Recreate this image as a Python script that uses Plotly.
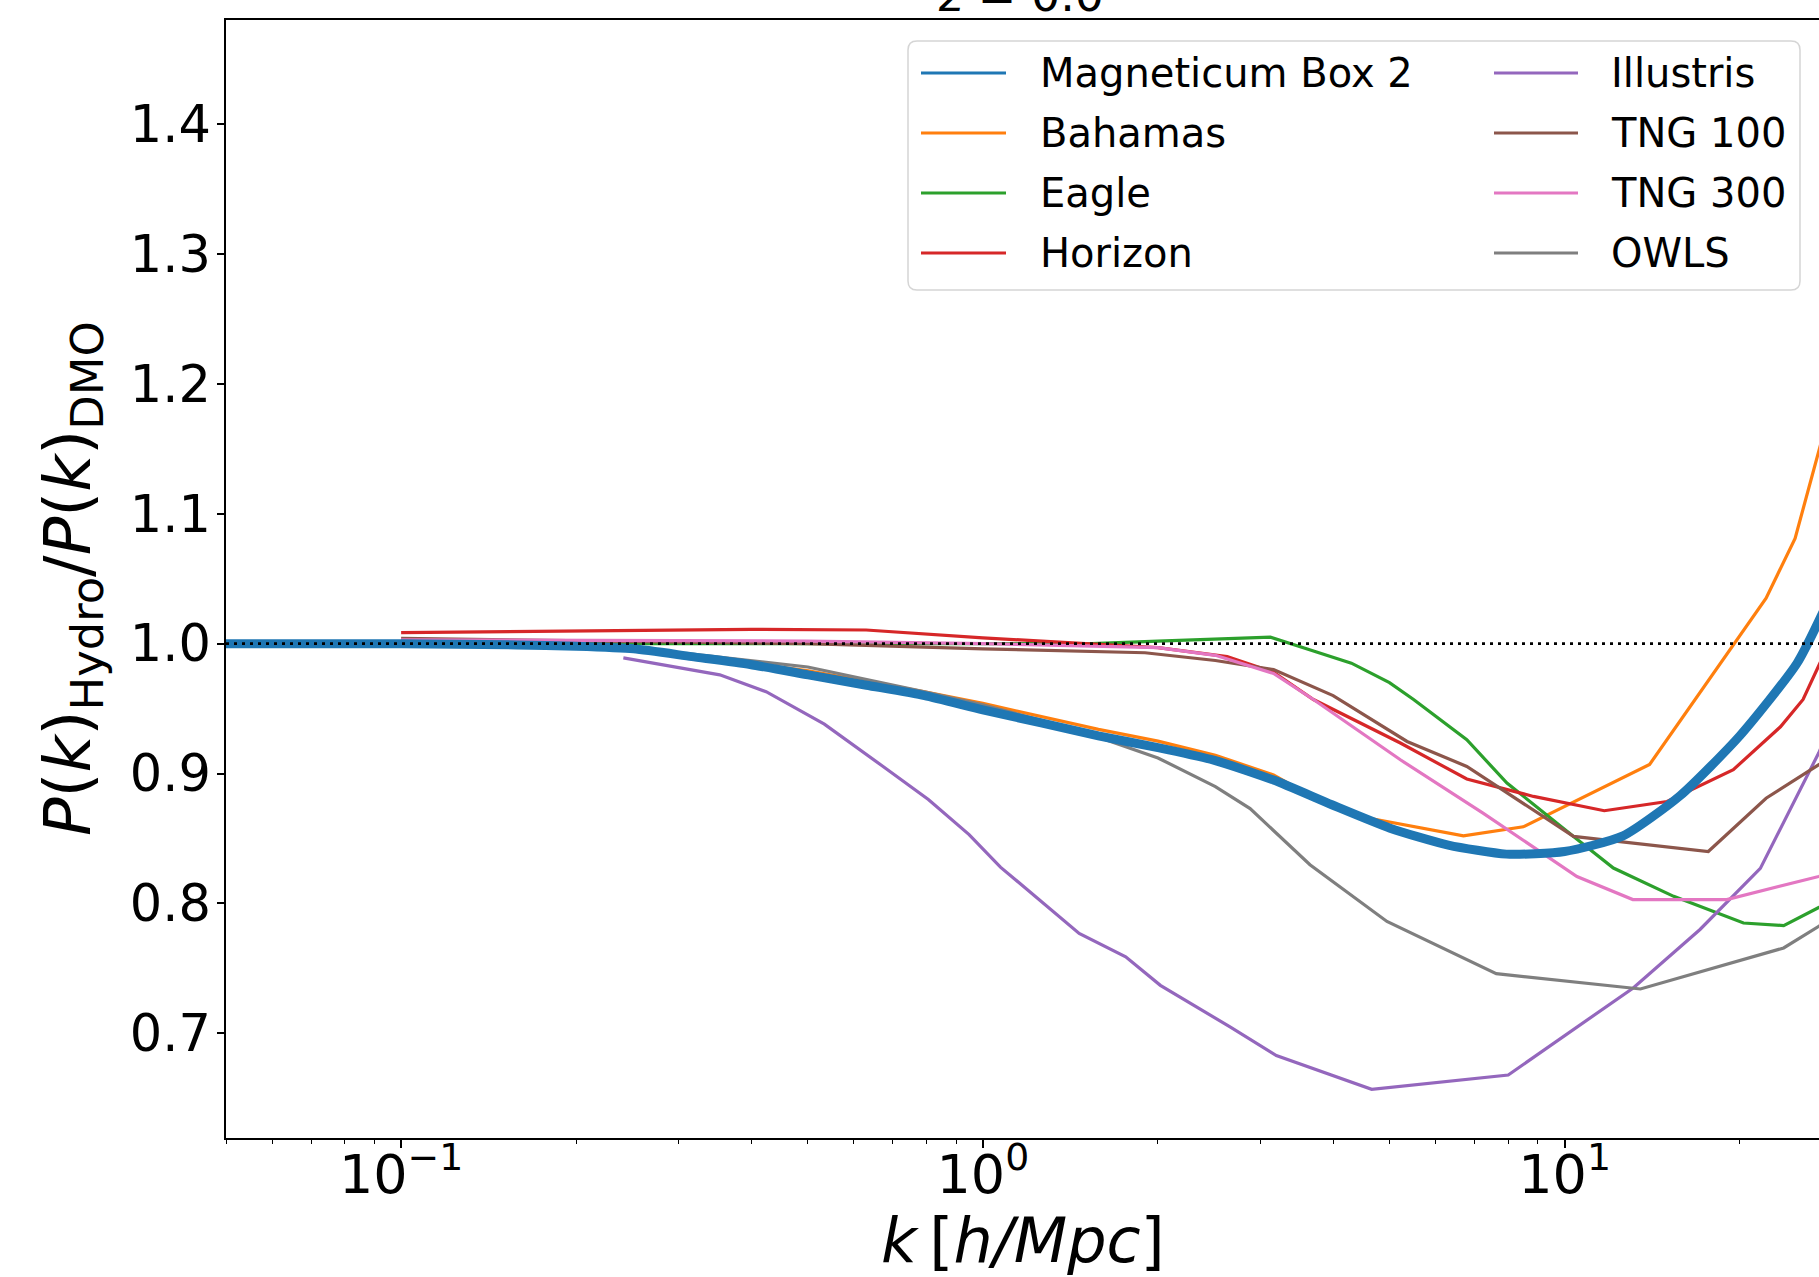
import math
import plotly.graph_objects as go

# ---------------- data ----------------
k_magneticum = [0.05, 0.1, 0.158, 0.2, 0.251, 0.316, 0.398, 0.501, 0.631, 0.794, 1.0, 1.26, 1.58, 2.0,
                2.51, 3.16, 3.98, 5.01, 6.31, 7.94, 10.0, 12.6, 15.8, 20.0, 25.1, 28.2]
r_magneticum = [1.0, 1.0, 0.999, 0.998, 0.996, 0.990, 0.984, 0.976, 0.968, 0.960, 0.949, 0.939, 0.929, 0.920,
                0.910, 0.895, 0.876, 0.858, 0.845, 0.838, 0.840, 0.852, 0.883, 0.929, 0.985, 1.03]

k_bahamas = [0.1, 0.2, 0.316, 0.501, 0.631, 0.794, 1.0, 1.26, 1.58, 2.0, 2.51, 3.16, 3.51, 4.57, 6.70, 8.49,
             14.0, 22.2, 24.9, 28.2]
r_bahamas = [1.0, 0.998, 0.991, 0.979, 0.971, 0.963, 0.954, 0.944, 0.934, 0.925, 0.914, 0.899, 0.8875, 0.866,
             0.852, 0.859, 0.907, 1.035, 1.081, 1.17]

k_eagle = [0.1, 1.0, 1.54, 2.0, 3.12, 3.6, 4.3, 5.0, 5.5, 6.79, 7.96, 10.36, 12.13, 15.4, 20.3, 23.8, 28.2]
r_eagle = [1.0, 1.0, 1.0, 1.002, 1.005, 0.996, 0.985, 0.970, 0.957, 0.926, 0.8927, 0.8516, 0.8273, 0.8055,
           0.785, 0.783, 0.80]

k_horizon = [0.1, 0.2, 0.4, 0.63, 1.0, 1.5, 2.0, 2.63, 3.16, 3.70, 5.22, 6.79, 8.84, 11.7, 15.0, 19.5, 23.5,
             25.7, 28.2]
r_horizon = [1.0085, 1.010, 1.011, 1.0105, 1.0045, 1.0, 0.997, 0.990, 0.978, 0.957, 0.9235, 0.8958, 0.8824,
             0.8714, 0.8785, 0.903, 0.936, 0.957, 0.996]

k_illustris = [0.241, 0.353, 0.424, 0.534, 0.671, 0.806, 0.947, 1.072, 1.464, 1.760, 2.019, 2.66, 3.195,
               4.66, 8.00, 10.36, 13.12, 17.09, 21.7, 27.35, 28.2]
r_illustris = [0.989, 0.976, 0.963, 0.938, 0.906, 0.880, 0.853, 0.828, 0.777, 0.759, 0.737, 0.705, 0.683,
               0.657, 0.668, 0.703, 0.735, 0.780, 0.827, 0.916, 0.93]

k_tng100 = [0.1, 0.5, 1.0, 1.9, 2.51, 3.16, 4.0, 5.36, 6.79, 10.36, 17.66, 22.2, 27.35, 28.2]
r_tng100 = [1.004, 1.0, 0.996, 0.993, 0.987, 0.980, 0.960, 0.9247, 0.9055, 0.8516, 0.840, 0.881, 0.9068, 0.91]

k_tng300 = [0.1, 0.5, 1.0, 2.0, 2.51, 3.16, 3.70, 5.22, 7.24, 10.5, 13.1, 19.0, 27.35, 28.2]
r_tng300 = [1.003, 1.002, 1.0, 0.997, 0.991, 0.977, 0.957, 0.9106, 0.8696, 0.8208, 0.803, 0.803, 0.8208, 0.823]

k_owls = [0.1, 0.2, 0.316, 0.5, 0.794, 1.0, 1.26, 1.58, 2.0, 2.51, 2.88, 3.65, 4.95, 7.63, 13.5, 23.8, 27.35, 28.2]
r_owls = [1.002, 0.998, 0.992, 0.982, 0.963, 0.953, 0.941, 0.928, 0.912, 0.890, 0.873, 0.8298, 0.7862, 0.746,
          0.7342, 0.7658, 0.7824, 0.786]

reference_level = 1.0

legend_col1 = ["Magneticum Box 2", "Bahamas", "Eagle", "Horizon"]
legend_col2 = ["Illustris", "TNG 100", "TNG 300", "OWLS"]

x_tickvals = [0.1, 1, 10]
x_ticktext = ["10<sup>\u22121</sup>", "10<sup>0</sup>", "10<sup>1</sup>"]
y_tickvals = [0.7, 0.8, 0.9, 1.0, 1.1, 1.2, 1.3, 1.4]
y_ticktext = ["0.7", "0.8", "0.9", "1.0", "1.1", "1.2", "1.3", "1.4"]

COLORS = {
    "Magneticum Box 2": "#1f77b4", "Bahamas": "#ff7f0e", "Eagle": "#2ca02c", "Horizon": "#d62728",
    "Illustris": "#9467bd", "TNG 100": "#8c564b", "TNG 300": "#e377c2", "OWLS": "#7f7f7f",
}

series = [
    ("Bahamas", k_bahamas, r_bahamas),
    ("Eagle", k_eagle, r_eagle),
    ("Horizon", k_horizon, r_horizon),
    ("Illustris", k_illustris, r_illustris),
    ("TNG 100", k_tng100, r_tng100),
    ("TNG 300", k_tng300, r_tng300),
    ("OWLS", k_owls, r_owls),
]

# ---------------- layout geometry ----------------
W, H = 1819, 1277
L, R, T, B = 226, 0, 20, 139
PW = W - L - R
PH = H - T - B
FONT = "DejaVu Sans"


def px_x(p):
    return (p - L) / PW


def px_y(p):
    return (H - B - p) / PH


fig = go.Figure()

for name, kx, ry in series:
    fig.add_trace(go.Scatter(x=kx, y=ry, mode="lines", name=name, showlegend=False,
                             line=dict(color=COLORS[name], width=3.2)))

fig.add_trace(go.Scatter(x=k_magneticum, y=r_magneticum, mode="lines", name="Magneticum Box 2",
                         showlegend=False, line=dict(color=COLORS["Magneticum Box 2"], width=9,
                                                     shape="spline", smoothing=0.6)))

shapes = []
# dotted reference line
shapes.append(dict(type="line", xref="paper", x0=0, x1=1, yref="y", y0=reference_level, y1=reference_level,
                   line=dict(color="black", width=2.6, dash="3px,5px"), layer="above"))

# legend box (rounded rectangle)
bx0, bx1, by0, by1, rr = 908, 1800, 41, 290, 9
path = (f"M {px_x(bx0 + rr)},{px_y(by0)} L {px_x(bx1 - rr)},{px_y(by0)} "
        f"Q {px_x(bx1)},{px_y(by0)} {px_x(bx1)},{px_y(by0 + rr)} "
        f"L {px_x(bx1)},{px_y(by1 - rr)} Q {px_x(bx1)},{px_y(by1)} {px_x(bx1 - rr)},{px_y(by1)} "
        f"L {px_x(bx0 + rr)},{px_y(by1)} Q {px_x(bx0)},{px_y(by1)} {px_x(bx0)},{px_y(by1 - rr)} "
        f"L {px_x(bx0)},{px_y(by0 + rr)} Q {px_x(bx0)},{px_y(by0)} {px_x(bx0 + rr)},{px_y(by0)} Z")
shapes.append(dict(type="path", xref="paper", yref="paper", path=path,
                   line=dict(color="#d5d5d5", width=1.5), fillcolor="rgba(255,255,255,0.8)", layer="above"))

annotations = []
row_y = [73, 133, 193, 253]
cols = [(legend_col1, 921, 1006, 1038), (legend_col2, 1494, 1578, 1609)]
for names, lx0, lx1, tx in cols:
    for name, yy in zip(names, row_y):
        shapes.append(dict(type="line", xref="paper", yref="paper", x0=px_x(lx0), x1=px_x(lx1),
                           y0=px_y(yy), y1=px_y(yy), line=dict(color=COLORS[name], width=3.2), layer="above"))
        annotations.append(dict(text=name, xref="paper", yref="paper", x=px_x(tx), y=px_y(yy),
                                xanchor="left", yanchor="middle", showarrow=False,
                                font=dict(family=FONT, size=40, color="black")))

# axis titles and panel title
annotations.append(dict(text="<i>k</i>\u2009[<i>h/Mpc</i>]", xref="paper", yref="paper", x=0.5, y=px_y(1240),
                        xanchor="center", yanchor="middle", showarrow=False,
                        font=dict(family=FONT, size=62, color="black")))
annotations.append(dict(text="<i>P</i>(<i>k</i>)<sub>Hydro</sub>/<i>P</i>(<i>k</i>)<sub>DMO</sub>",
                        xref="paper", yref="paper", x=px_x(72), y=0.5, textangle=-90,
                        xanchor="center", yanchor="middle", showarrow=False,
                        font=dict(family=FONT, size=64, color="black")))
annotations.append(dict(text="<i>z</i> = 0.0", xref="paper", yref="paper", x=px_x(1021), y=px_y(-5),
                        xanchor="center", yanchor="middle", showarrow=False,
                        font=dict(family=FONT, size=46, color="black")))

minor_x = [m * d for d in (0.01, 0.1, 1, 10) for m in range(2, 10)]

fig.update_layout(
    width=W, height=H, margin=dict(l=L, r=R, t=T, b=B, pad=0),
    paper_bgcolor="white", plot_bgcolor="white",
    showlegend=False, shapes=shapes, annotations=annotations,
    font=dict(family=FONT, color="black"),
    xaxis=dict(type="log", range=[math.log10(0.05), 1.4373], tickvals=x_tickvals, ticktext=x_ticktext,
               ticks="outside", ticklen=8, tickwidth=1.6, tickcolor="black",
               showline=True, linecolor="black", linewidth=1.8, mirror=True,
               showgrid=False, zeroline=False, tickfont=dict(family=FONT, size=54, color="black"),
               ticklabelstandoff=-20,
               minor=dict(tickvals=minor_x, ticks="outside", ticklen=4.5, tickwidth=1.2, tickcolor="black",
                          showgrid=False)),
    yaxis=dict(range=[0.6195, 1.4800], tickvals=y_tickvals, ticktext=y_ticktext,
               ticks="outside", ticklen=7, tickwidth=1.6, tickcolor="black",
               showline=True, linecolor="black", linewidth=1.8, mirror=False,
               showgrid=False, zeroline=False, tickfont=dict(family=FONT, size=51, color="black"),
               ticklabelstandoff=-4),
)

fig.write_html("out.html")
